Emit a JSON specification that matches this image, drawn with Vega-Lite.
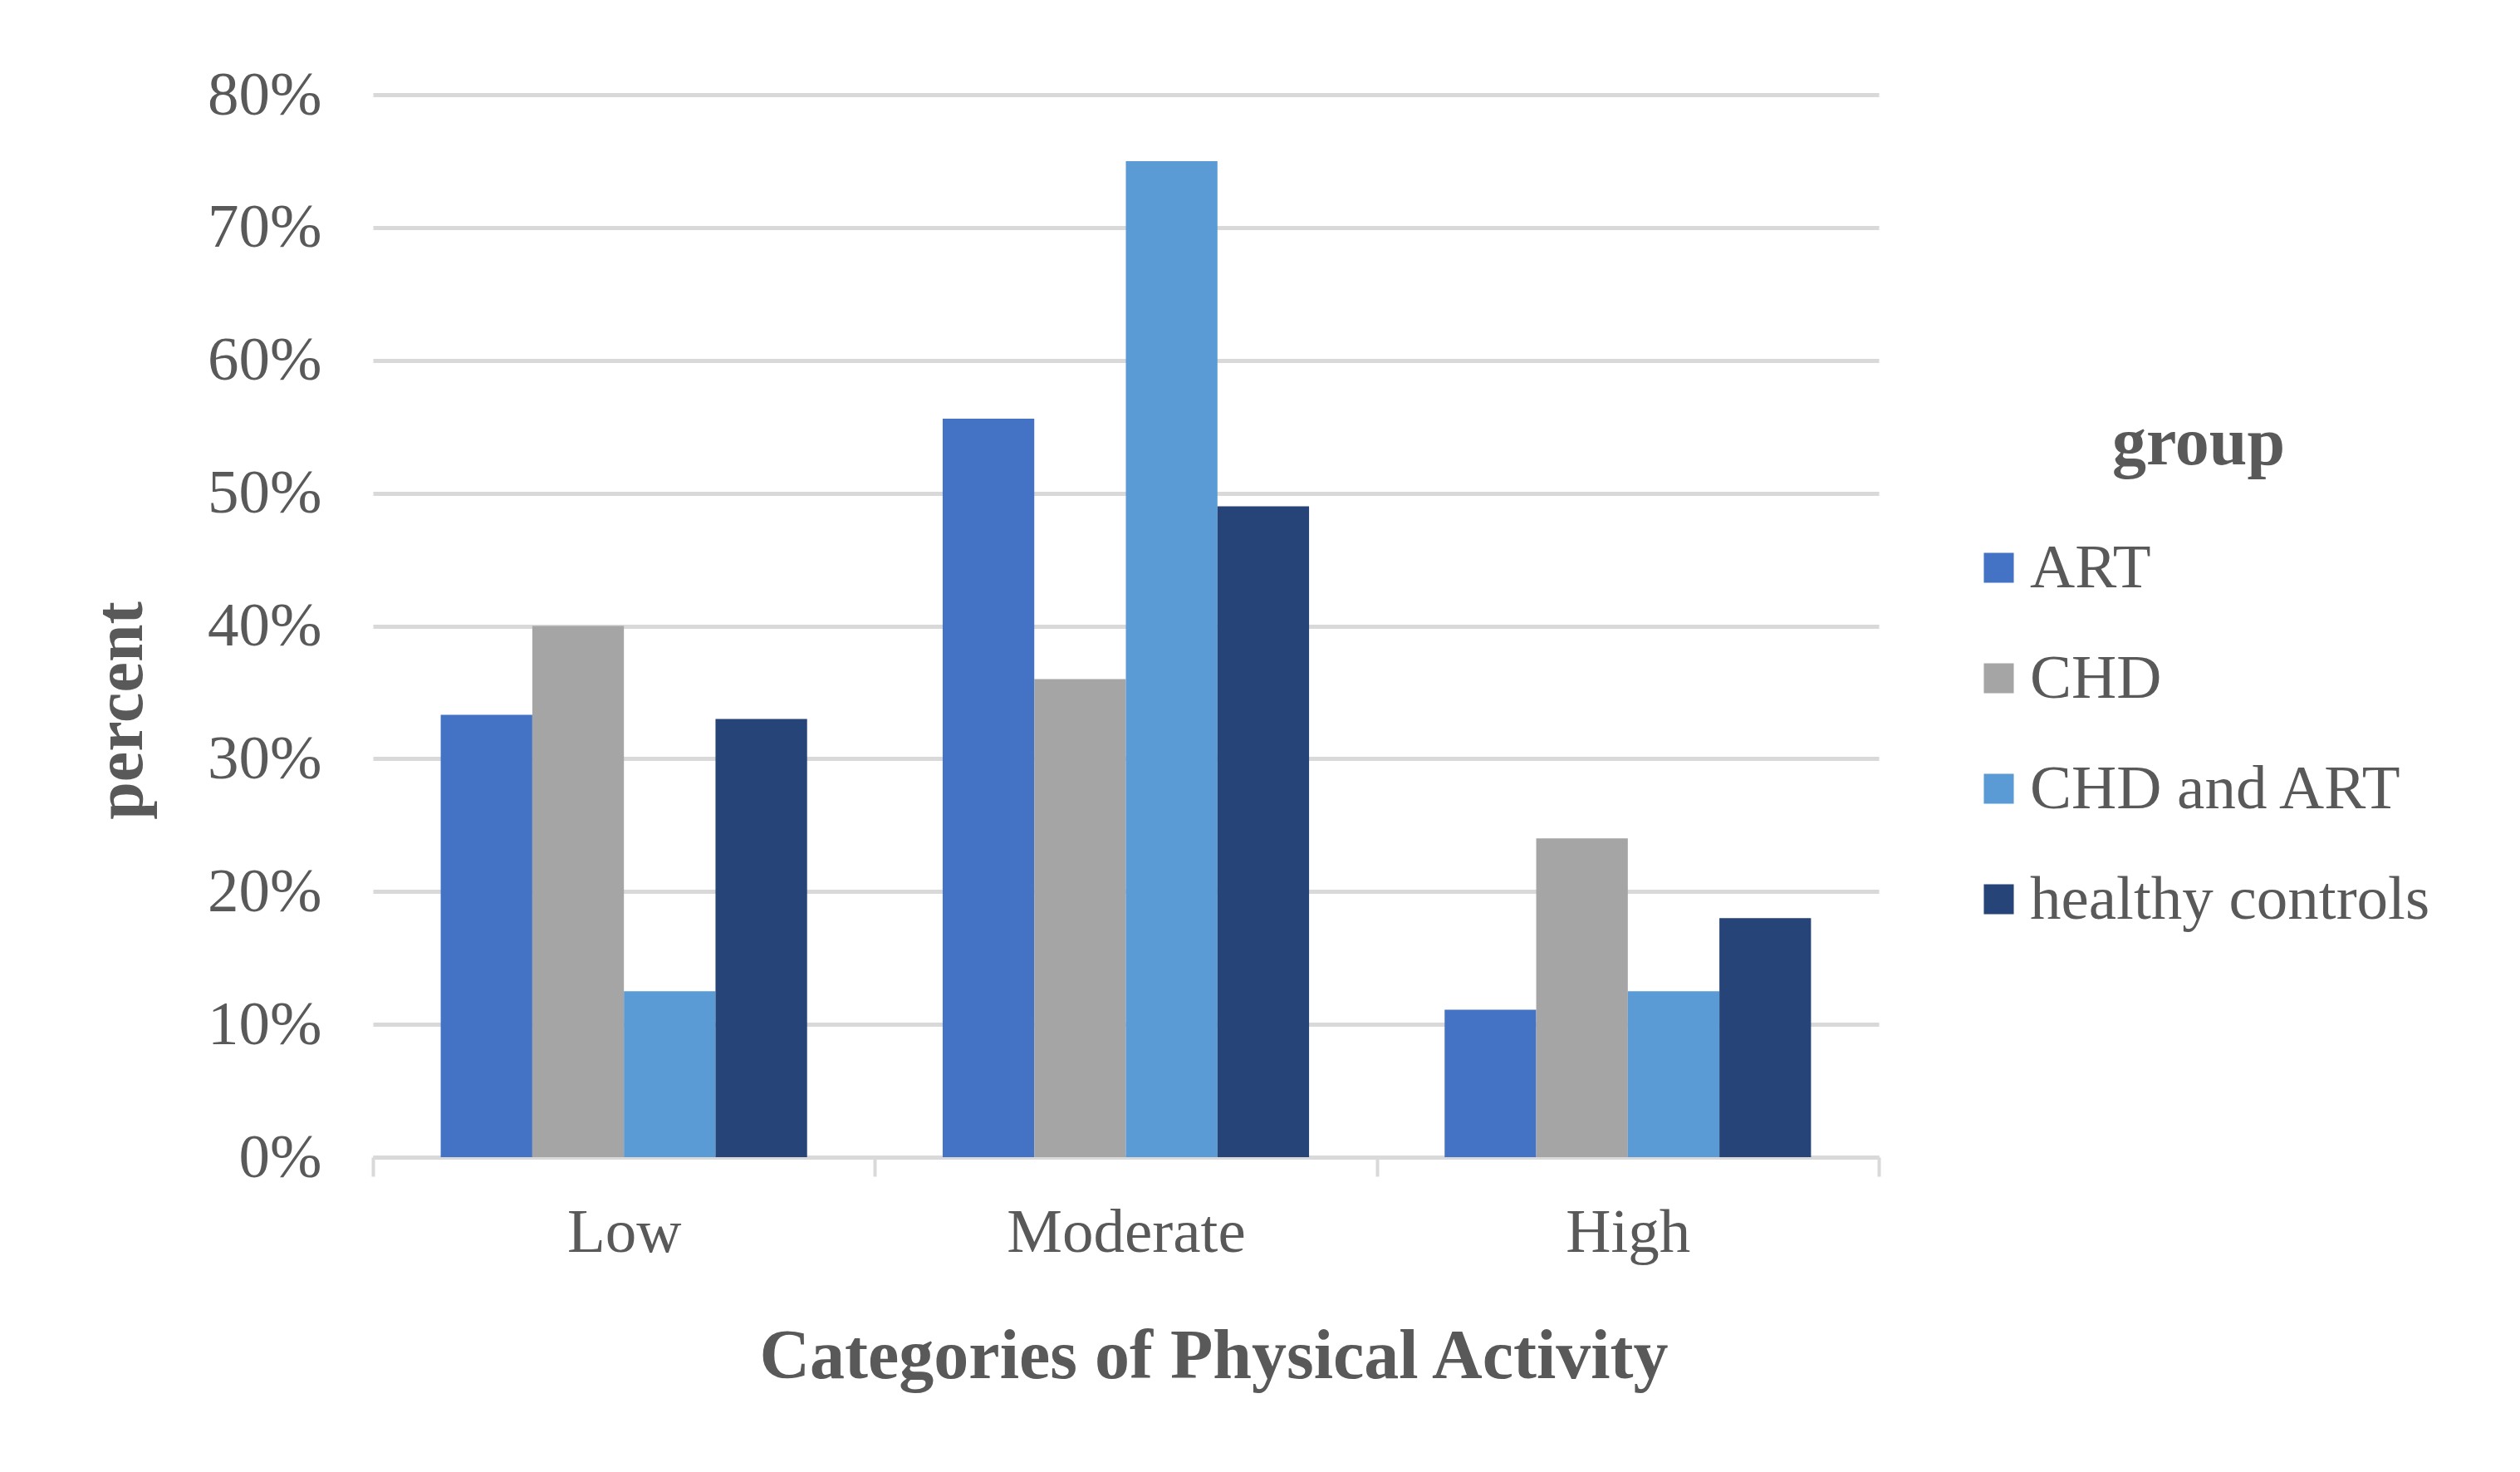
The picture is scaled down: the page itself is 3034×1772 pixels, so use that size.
{
  "$schema": "https://vega.github.io/schema/vega-lite/v6.json",
  "width": 1813,
  "height": 1279,
  "autosize": {"type": "none"},
  "padding": {"left": 449, "top": 114, "right": 772, "bottom": 379},
  "background": "white",
  "data": {
    "values": [
      {"category": "Low", "group": "ART", "percent": 0.333},
      {"category": "Low", "group": "CHD", "percent": 0.40},
      {"category": "Low", "group": "CHD and ART", "percent": 0.125},
      {"category": "Low", "group": "healthy controls", "percent": 0.33},
      {"category": "Moderate", "group": "ART", "percent": 0.556},
      {"category": "Moderate", "group": "CHD", "percent": 0.36},
      {"category": "Moderate", "group": "CHD and ART", "percent": 0.75},
      {"category": "Moderate", "group": "healthy controls", "percent": 0.49},
      {"category": "High", "group": "ART", "percent": 0.111},
      {"category": "High", "group": "CHD", "percent": 0.24},
      {"category": "High", "group": "CHD and ART", "percent": 0.125},
      {"category": "High", "group": "healthy controls", "percent": 0.18}
    ]
  },
  "mark": {"type": "bar"},
  "encoding": {
    "x": {
      "field": "category",
      "type": "nominal",
      "sort": ["Low", "Moderate", "High"],
      "scale": {"paddingInner": 0, "paddingOuter": 0},
      "axis": {
        "title": "Categories of Physical Activity",
        "labelAngle": 0,
        "labelLimit": 0,
        "labelFont": "Liberation Serif",
        "labelFontSize": 75,
        "labelColor": "#595959",
        "labelBaseline": "alphabetic",
        "labelPadding": 90,
        "tickBand": "extent",
        "ticks": true,
        "tickSize": 23,
        "tickColor": "#d9d9d9",
        "tickWidth": 4,
        "domainColor": "#d9d9d9",
        "domainWidth": 5,
        "grid": false,
        "titleFont": "Liberation Serif",
        "titleFontSize": 84,
        "titleFontWeight": "bold",
        "titleColor": "#595959",
        "titleBaseline": "alphabetic",
        "titleAlign": "center",
        "titleLimit": 0,
        "titleX": 1012,
        "titleY": 265
      }
    },
    "xOffset": {
      "field": "group",
      "type": "nominal",
      "sort": ["ART", "CHD", "CHD and ART", "healthy controls"],
      "scale": {"paddingInner": 0, "paddingOuter": 0.74}
    },
    "y": {
      "field": "percent",
      "type": "quantitative",
      "scale": {"domain": [0, 0.8], "nice": false},
      "axis": {
        "title": "percent",
        "values": [0, 0.1, 0.2, 0.3, 0.4, 0.5, 0.6, 0.7, 0.8],
        "format": ".0%",
        "labelFont": "Liberation Serif",
        "labelFontSize": 75,
        "labelColor": "#595959",
        "labelPadding": 62,
        "ticks": false,
        "domain": false,
        "grid": true,
        "gridColor": "#d9d9d9",
        "gridWidth": 5,
        "titleFont": "Liberation Serif",
        "titleFontSize": 82,
        "titleFontWeight": "bold",
        "titleColor": "#595959",
        "titleAngle": 270,
        "titleBaseline": "alphabetic",
        "titleAlign": "center",
        "titleX": -279,
        "titleY": 741
      }
    },
    "color": {
      "field": "group",
      "type": "nominal",
      "sort": ["ART", "CHD", "CHD and ART", "healthy controls"],
      "scale": {
        "domain": ["ART", "CHD", "CHD and ART", "healthy controls"],
        "range": ["#4472C4", "#A5A5A5", "#5B9BD5", "#264478"]
      },
      "legend": {
        "title": "group",
        "orient": "none",
        "legendX": 1920,
        "legendY": 380,
        "titleFont": "Liberation Serif",
        "titleFontSize": 82,
        "titleFontWeight": "bold",
        "titleColor": "#595959",
        "titleAnchor": "middle",
        "titleAlign": "center",
        "titleLimit": 0,
        "titlePadding": 70,
        "labelFont": "Liberation Serif",
        "labelFontSize": 75,
        "labelColor": "#595959",
        "labelLimit": 0,
        "labelOffset": 0,
        "symbolType": "square",
        "symbolSize": 1300,
        "symbolStrokeWidth": 0,
        "rowPadding": 57
      }
    }
  },
  "config": {
    "view": {"stroke": null}
  }
}
